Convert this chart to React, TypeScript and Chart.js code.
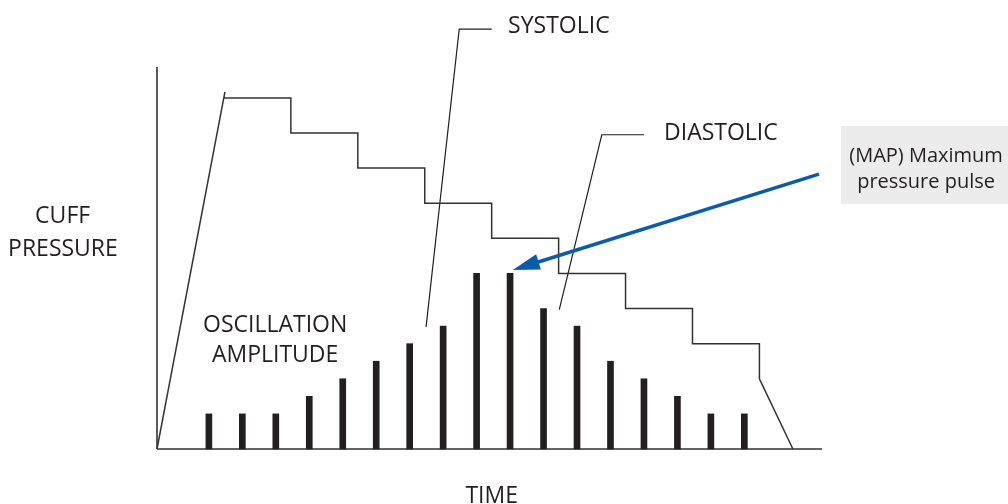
import React, { useEffect, useRef } from "react";
import { Chart, registerables } from "chart.js";

Chart.register(...registerables);

// Cuff pressure (stepped deflation) – time vs level
const pressureTime = [0, 2.03, 2, 4, 4, 6, 6, 8, 8, 10, 10, 12, 12, 14, 14, 16, 16, 18, 18, 19];
const pressureLevel = [0, 10.17, 10, 10, 9, 9, 8, 8, 7, 7, 6, 6, 5, 5, 4, 4, 3, 3, 2, 0];

// Oscillation amplitude pulses
const oscTime = [1.55, 2.55, 3.55, 4.55, 5.55, 6.55, 7.55, 8.55, 9.55, 10.55, 11.55, 12.55, 13.55, 14.55, 15.55, 16.55, 17.55];
const oscAmplitude = [1, 1, 1, 1.5, 2, 2.5, 3, 3.5, 5, 5, 4, 3.5, 2.5, 2, 1.5, 1, 1];

// Axis extents
const X_MAX = 19.87;
const Y_MAX = 10.88;

// Leader lines for labels
const systolicLeaderX = [8.04, 9.03, 10.0];
const systolicLeaderY = [3.48, 11.96, 11.96];
const diastolicLeaderX = [12.02, 13.29, 14.55];
const diastolicLeaderY = [3.97, 8.95, 8.95];

// MAP arrow (from -> to)
const mapArrowFrom = [19.78, 7.83];
const mapArrowTo = [10.63, 5.1];

const labels = [
  { text: "SYSTOLIC", x: 10.49, y: 11.85, align: "left" },
  { text: "DIASTOLIC", x: 15.15, y: 8.8, align: "left" },
  { text: "OSCILLATION", x: 3.53, y: 3.32, align: "center" },
  { text: "AMPLITUDE", x: 3.53, y: 2.48, align: "center" },
  { text: "CUFF", x: -2.82, y: 6.43, align: "center" },
  { text: "PRESSURE", x: -2.81, y: 5.5, align: "center" },
  { text: "TIME", x: 10.0, y: -1.54, align: "center" },
];

const mapBoxText = ["(MAP) Maximum", "pressure pulse"];

const INK = "#231f20";
const LINE = "#333333";
const BLUE = "#0b5cad";

const toPts = (xs: number[], ys: number[]) => xs.map((x, i) => ({ x, y: ys[i] }));

const annotationPlugin = {
  id: "annotations",
  afterDatasetsDraw(chart: any) {
    const { ctx, scales } = chart;
    const xs = scales.x;
    const ys = scales.y;
    const px = (v: number) => xs.getPixelForValue(v);
    const py = (v: number) => ys.getPixelForValue(v);
    ctx.save();

    // labels
    ctx.fillStyle = INK;
    ctx.font = '23px "Open Sans", "Noto Sans", sans-serif';
    ctx.textBaseline = "alphabetic";
    labels.forEach((l) => {
      ctx.textAlign = l.align;
      ctx.fillText(l.text, px(l.x), py(l.y));
    });

    // MAP box
    const bx0 = px(20.44);
    const bx1 = chart.width;
    const by0 = py(9.2);
    const by1 = py(6.98);
    ctx.fillStyle = "#ececec";
    ctx.fillRect(bx0, by0, bx1 - bx0, by1 - by0);
    ctx.fillStyle = INK;
    ctx.font = '20px "Open Sans", "Noto Sans", sans-serif';
    ctx.textAlign = "center";
    ctx.fillText(mapBoxText[0], px(22.98), py(8.18));
    ctx.fillText(mapBoxText[1], px(22.98), py(7.44));

    // arrow
    const x0 = px(mapArrowFrom[0]);
    const y0 = py(mapArrowFrom[1]);
    const x1 = px(mapArrowTo[0]);
    const y1 = py(mapArrowTo[1]);
    const ang = Math.atan2(y1 - y0, x1 - x0);
    const headLen = 27;
    const headHalf = 8;
    const bxh = x1 - headLen * Math.cos(ang);
    const byh = y1 - headLen * Math.sin(ang);
    ctx.strokeStyle = BLUE;
    ctx.lineWidth = 3.5;
    ctx.beginPath();
    ctx.moveTo(x0, y0);
    ctx.lineTo(bxh + 2 * Math.cos(ang), byh + 2 * Math.sin(ang));
    ctx.stroke();
    ctx.fillStyle = BLUE;
    ctx.beginPath();
    ctx.moveTo(x1, y1);
    ctx.lineTo(bxh + headHalf * Math.sin(ang), byh - headHalf * Math.cos(ang));
    ctx.lineTo(bxh - headHalf * Math.sin(ang), byh + headHalf * Math.cos(ang));
    ctx.closePath();
    ctx.fill();

    ctx.restore();
  },
};

export default function App() {
  const canvasRef = useRef<HTMLCanvasElement | null>(null);

  useEffect(() => {
    if (!canvasRef.current) return;
    const lineDs = (data: any[], color: string, width: number) => ({
      type: "line",
      data,
      borderColor: color,
      borderWidth: width,
      pointRadius: 0,
      tension: 0,
      fill: false,
      clip: false,
      borderCapStyle: "butt",
      borderJoinStyle: "miter",
    });
    const chart = new Chart(canvasRef.current, {
      type: "bar",
      data: {
        datasets: [
          {
            type: "bar",
            data: toPts(oscTime, oscAmplitude),
            backgroundColor: INK,
            barThickness: 6,
            borderWidth: 0,
            clip: false,
          } as any,
          lineDs(toPts(pressureTime, pressureLevel), LINE, 1.5),
          lineDs(toPts([0, 0], [0, Y_MAX]), LINE, 1.6),
          lineDs(toPts([0, X_MAX], [0, 0]), LINE, 1.6),
          lineDs(toPts(systolicLeaderX, systolicLeaderY), INK, 1.2),
          lineDs(toPts(diastolicLeaderX, diastolicLeaderY), INK, 1.2),
        ] as any,
      },
      options: {
        animation: false,
        responsive: false,
        devicePixelRatio: 1,
        parsing: true,
        layout: { padding: { left: 157, right: 186, top: 67, bottom: 55 } },
        plugins: { legend: { display: false }, tooltip: { enabled: false } },
        scales: {
          x: { type: "linear", min: 0, max: X_MAX, display: false, offset: false },
          y: { type: "linear", min: 0, max: Y_MAX, display: false },
        },
      } as any,
      plugins: [annotationPlugin],
    });
    return () => chart.destroy();
  }, []);

  return (
    <div style={{ position: "fixed", left: 0, top: 0, width: 1008, height: 504, background: "#fff" }}>
      <canvas ref={canvasRef} width={1008} height={504} style={{ display: "block", width: 1008, height: 504 }} />
    </div>
  );
}
